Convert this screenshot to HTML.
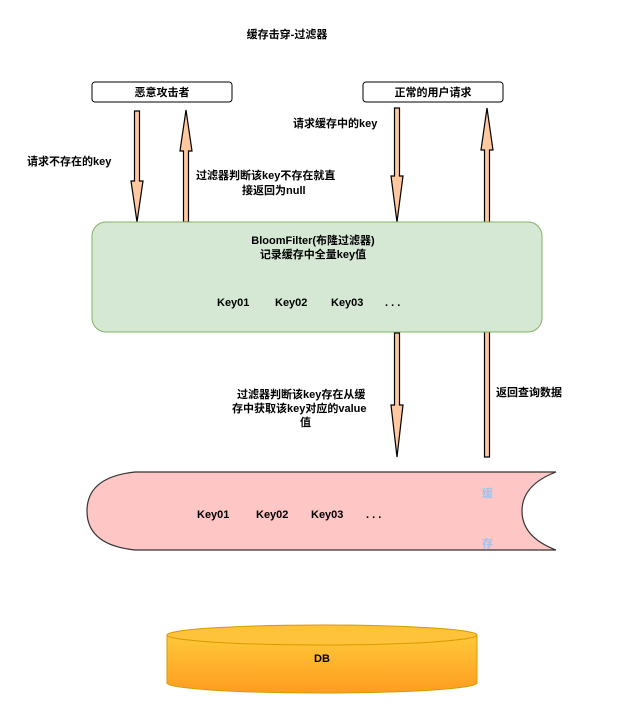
<!DOCTYPE html>
<html><head><meta charset="utf-8"><style>
body{margin:0;background:#fff}
text{font-family:"Liberation Sans","Noto Sans CJK SC",sans-serif;font-weight:bold;font-size:11px}
</style></head><body>
<svg width="627" height="717" viewBox="0 0 627 717" xmlns="http://www.w3.org/2000/svg">
<defs>
<linearGradient id="g" x1="0" y1="0" x2="0" y2="1"><stop offset="0" stop-color="#ffc83a"/><stop offset="1" stop-color="#ff9d20"/></linearGradient>
</defs>
<text x="287" y="38" text-anchor="middle" font-size="13">缓存击穿-过滤器</text>
<rect x="92" y="82" width="140" height="20" rx="3" fill="#fff" stroke="#000"/>
<text x="162" y="96" text-anchor="middle">恶意攻击者</text>
<rect x="363" y="82" width="140" height="20" rx="3" fill="#fff" stroke="#000"/>
<text x="433" y="96" text-anchor="middle">正常的用户请求</text>
<g fill="#ffc89e" stroke="#000" stroke-width="1.2">
<!-- down arrow 1 -->
<path d="M134.5 111 H139.5 V181 H143 L137 222 L131 181 H134.5 Z"/>
<!-- up arrow 2 -->
<path d="M186 110 L192 151 H188.5 V222 H183.5 V151 H180 Z"/>
<!-- down arrow 3 -->
<path d="M394.5 108 H399.5 V176 H403 L397 222 L391 176 H394.5 Z"/>
<!-- up arrow 4 -->
<path d="M487 108 L493 150 H489.5 V457 H484.5 V150 H481 Z"/>
<!-- down arrow 5 -->
<path d="M394.5 333 H399.5 V405 H403 L397 457 L391 405 H394.5 Z"/>
</g>
<text x="27" y="165">请求不存在的key</text>
<text x="196" y="179">过滤器判断该key不存在就直</text>
<text x="242" y="194">接返回为null</text>
<text x="293" y="127">请求缓存中的key</text>
<rect x="92" y="222" width="450" height="110" rx="14" fill="#d5e8d4" stroke="#82b366"/>
<text x="313" y="244" text-anchor="middle">BloomFilter(布隆过滤器)</text>
<text x="313" y="258" text-anchor="middle">记录缓存中全量key值</text>
<text x="217" y="306">Key01</text><text x="275" y="306">Key02</text><text x="331" y="306">Key03</text><text x="385" y="306">. . .</text>
<text x="237" y="398">过滤器判断该key存在从缓</text>
<text x="232" y="412">存中获取该key对应的value</text>
<text x="300" y="426">值</text>
<text x="496" y="396">返回查询数据</text>
<path d="M135 472 H556 Q522 485 522 511 Q522 537 556 550 H135 Q87 545 87 511 Q87 477 135 472 Z" fill="#ffc6c6" stroke="#333" stroke-width="1.2"/>
<text x="197" y="518">Key01</text><text x="256" y="518">Key02</text><text x="311" y="518">Key03</text><text x="366" y="518">. . .</text>
<text x="482" y="497" font-size="18" font-weight="normal" fill="#99c2f2">缓</text>
<text x="482" y="547" font-size="18" font-weight="normal" fill="#99c2f2">存</text>
<path d="M167 635 V683 A155 10 0 0 0 477 683 V635" fill="url(#g)" stroke="#d79b00"/>
<ellipse cx="322" cy="635" rx="155" ry="10" fill="#ffc23a" stroke="#d79b00"/>
<text x="322" y="662" text-anchor="middle" font-weight="normal">DB</text>
</svg>
</body></html>
